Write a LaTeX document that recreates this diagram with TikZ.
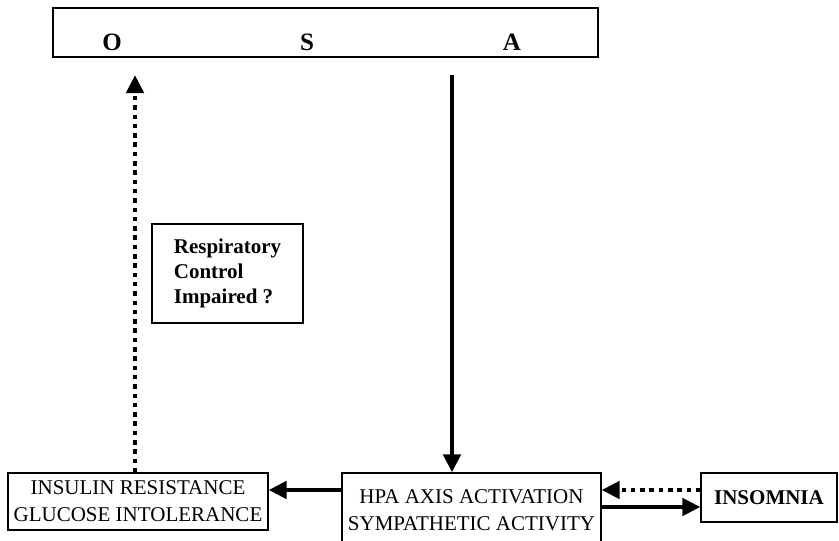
\documentclass[tikz,border=0pt]{standalone}
\usepackage{fontspec}
\setmainfont{Liberation Serif}
\usetikzlibrary{calc,arrows.meta,positioning}

\begin{document}
\begin{tikzpicture}[x=1pt,y=-1pt,
		box/.style={draw,line width=1.2pt,inner sep=0pt,font=\fontsize{21}{27}\selectfont,align=center},
		solidarr/.style={line width=4.8pt,-{Triangle[length=18pt,width=17pt]}},
		dotarr/.style={line width=4.8pt,dash pattern=on 4.5pt off 4.8pt,-{Triangle[length=18pt,width=17pt]}}]
		\useasboundingbox (0,0) rectangle (839,541);
		\clip (0,0) rectangle (839,541);
		
		% top box
		\node [box,minimum width=545pt,minimum height=49pt] (osa) at (325.5,32.5) {};
		\foreach \x/\l in {112/O,307/S,512/A}
		\node [anchor=base,font=\fontsize{25}{25}\selectfont\bfseries] (l\l) at (\x,50) {\l};
		
		% bottom row
		\node [box,minimum width=260pt,minimum height=57pt] (insulin) at (138,501.5) {INSULIN RESISTANCE\\GLUCOSE INTOLERANCE};
		\node [box,minimum width=259pt,minimum height=74pt] (hpa) at (471.5,510) {HPA AXIS ACTIVATION\\SYMPATHETIC ACTIVITY};
		\node [box,minimum width=136pt,minimum height=49pt,font=\fontsize{21}{27}\selectfont\bfseries] (insomnia) at (769,497.5) {INSOMNIA};
		\node [box,minimum width=151pt,minimum height=99pt,align=left,font=\fontsize{21}{25}\selectfont\bfseries] (resp) at (227.5,273.5) {Respiratory\\Control\\Impaired ?};
		
		\coordinate (upTip) at (135,75);
		\coordinate (downTop) at (452,75);
		\coordinate (rowA) at (0,490);
		\coordinate (rowB) at (0,507);
		
		\draw [dotarr] (upTip |- insulin.north) -- (upTip);
		\draw [solidarr] (downTop) -- (downTop |- hpa.north);
		\draw [solidarr] (hpa.west |- rowA) -- (insulin.east |- rowA);
		\draw [dotarr] (insomnia.west |- rowA) -- (hpa.east |- rowA);
		\draw [solidarr] (hpa.east |- rowB) -- (insomnia.west |- rowB);
	\end{tikzpicture}
\end{document}
